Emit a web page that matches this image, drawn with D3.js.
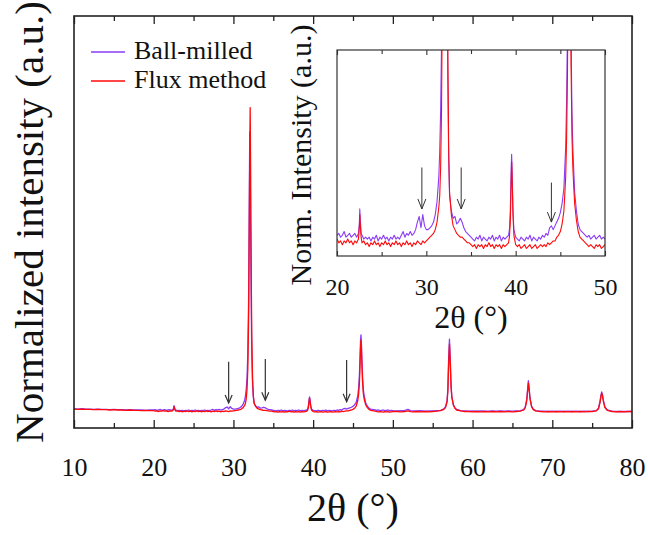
<!DOCTYPE html>
<html><head><meta charset="utf-8">
<script src="https://cdn.jsdelivr.net/npm/d3@7"></script>
<style>
body{margin:0;background:#fff;}
svg{display:block;}
text{font-family:"Liberation Serif","Times New Roman",serif;fill:#111;}
</style>
</head><body>
<svg id="c" width="648" height="535" font-family="Liberation Serif, Times New Roman, serif"></svg>
<script>
// 2θ sampling positions (degrees)
const twoTheta = [
  10,10.5,11,11.5,12,12.5,13,13.5,14,14.5,15,15.5,16,16.5,17,17.5,18,18.5,19,19.5,
  20,20.2,20.4,20.6,20.8,21,21.2,21.4,21.6,21.8,22,22.2,22.4,
  22.5,22.55,22.6,22.7,22.8,
  23,23.2,23.4,23.6,23.8,24,24.2,24.4,24.6,24.8,25,25.2,25.4,25.6,25.8,26,26.2,26.4,26.6,26.8,
  27,27.2,27.4,27.6,27.8,28,28.2,28.4,28.6,28.8,29,29.2,29.4,29.6,29.8,30,30.2,30.4,30.6,30.8,
  31,31.2,31.4,31.5,31.6,31.7,31.8,31.9,31.95,32,32.05,32.1,32.15,32.2,32.25,32.3,32.4,32.5,32.6,32.8,
  33,33.2,33.4,33.6,33.8,34,34.2,34.4,34.6,34.8,35,35.2,35.4,35.6,35.8,36,36.2,36.4,36.6,36.8,
  37,37.2,37.4,37.6,37.8,38,38.2,38.4,38.6,38.8,39,39.2,
  39.3,39.4,39.5,39.55,39.6,39.7,39.8,
  40,40.2,40.4,40.6,40.8,41,41.2,41.4,41.6,41.8,42,42.2,42.4,42.6,42.8,43,43.2,43.4,43.6,43.8,
  44,44.2,44.4,44.6,44.8,45,45.2,45.4,
  45.6,45.7,45.8,45.9,45.95,46,46.05,46.1,46.2,46.3,46.4,46.5,46.6,46.8,
  47,47.2,47.4,47.6,47.8,48,48.2,48.4,48.6,48.8,49,49.2,49.4,49.6,49.8,50,
  50.5,51,51.5,51.9,52.2,52.5,53,53.5,54,54.5,
  55,55.5,56,56.4,56.6,56.8,56.9,57,57.1,57.2,
  57.3,57.4,57.6,57.8,58,58.5,59,59.5,60,60.5,
  61,61.5,62,62.5,63,63.5,64,64.5,65,65.5,
  66,66.4,66.6,66.8,66.9,67,67.1,67.2,67.4,67.6,
  67.9,68.5,69,69.5,70,70.5,71,71.5,72,72.5,
  73,73.5,74,74.5,75,75.5,75.8,76,76.1,76.2,
  76.3,76.4,76.6,76.9,77.5,78,78.5,79,79.5,80
];
// Normalized intensity, in thousandths of the strongest (Flux method) peak
const fluxMethod = [
  12,11,12,11,11,10,11,10,10,9,10,9,9,8,9,8,8,7,8,7,
  7,5,6,4,6,5,7,5,6,4,6,5,7,
  13,20,15,8,5,
  6,4,5,3,5,4,6,4,5,3,5,4,6,4,5,3,5,4,6,4,
  5,3,5,4,6,4,5,3,5,4,6,5,4,6,5,6,7,8,9,10,
  12,16,24,30,45,75,140,300,460,650,850,1000,820,600,400,250,110,55,32,20,
  14,12,10,9,8,8,7,6,5,5,4,3,4,2,4,3,4,2,4,3,
  5,3,4,2,4,3,4,2,4,3,4,5,
  8,16,38,48,40,20,9,
  4,3,4,2,3,4,2,3,4,2,3,4,2,3,4,3,4,3,5,4,
  5,6,6,8,9,11,15,22,
  40,60,95,170,215,238,220,175,100,62,45,35,26,17,
  11,8,7,6,5,4,3,4,3,2,4,3,4,2,3,4,
  4,3,4,6,4,3,4,3,4,3,
  4,5,7,11,17,35,70,160,225,165,
  85,50,24,14,9,6,4,4,3,4,
  3,4,3,4,3,4,3,4,3,4,
  5,9,16,40,70,97,75,46,20,11,
  6,4,3,4,3,4,3,4,3,4,
  3,4,3,4,4,6,13,35,52,64,
  55,38,17,8,4,3,4,3,4,4
];
const ballMilled = [
  13,12,13,12,12,11,12,11,11,10,11,10,10,9,10,9,9,9,8,9,
  9,10,8,9,11,8,9,10,8,9,10,8,10,
  15,23,18,10,9,
  7,8,7,8,6,8,7,9,6,8,7,9,7,8,6,8,7,9,7,8,
  7,9,11,8,10,9,11,9,10,12,16,19,13,20,14,12,12,13,14,16,
  20,27,40,54,75,110,190,360,560,750,920,820,640,460,320,200,95,50,30,22,
  18,19,15,16,18,16,13,11,10,9,8,7,6,8,7,9,6,8,7,6,
  8,7,9,6,8,7,9,6,8,7,8,9,
  12,22,45,52,44,22,12,
  8,7,6,8,7,6,8,7,9,6,8,7,6,8,7,9,8,10,9,13,
  14,12,14,16,18,21,26,34,
  56,80,120,200,240,255,230,185,115,75,55,44,32,22,
  15,12,11,10,9,8,9,7,8,9,7,8,9,7,8,7,
  6,7,8,11,7,6,6,7,5,6,
  6,7,8,13,19,40,80,180,241,175,
  90,52,26,16,11,7,6,5,6,5,
  6,5,5,6,5,6,5,6,5,6,
  7,10,18,45,76,105,80,50,22,12,
  7,5,5,4,5,4,5,4,5,4,
  5,4,5,4,5,7,15,40,57,68,
  58,42,19,9,5,4,4,4,4,4
];
const seriesNames = ["Ball-milled","Flux method"];
const seriesColors = ["#8a3cf5","#ff0a0a"];
const mainTicks = [10,20,30,40,50,60,70,80];
const mainMinor = [15,25,35,45,55,65,75];
const insetTicks = [20,30,40,50];
const insetMinor = [25,35,45];
// arrows: 2θ position, intensity at tail and at tip (thousandths)
const arrowsMain = [[29.4,167,32],[34.0,176,41],[44.2,173,36]];
const arrowsInset = [[29.5,45,23],[33.9,45,23],[44.0,37,16]];

const FONT = '"Liberation Serif","Times New Roman",serif';
const svg = d3.select("#c");
svg.append("rect").attr("width",648).attr("height",535).attr("fill","#fff");

const F = {l:74,r:632,t:16,b:428};
const x = d3.scaleLinear().domain([10,80]).range([F.l,F.r]);
const y = d3.scaleLinear().domain([-50,1300]).range([F.b,F.t]);

const I = {l:337,r:605,t:50,b:256};
const xi = d3.scaleLinear().domain([20,50]).range([I.l,I.r]);
const yi = d3.scaleLinear().domain([-2,107.4]).range([I.b,I.t]);

const data = [ballMilled, fluxMethod];

// main lines
const mainG = svg.append("g");
data.forEach((vals,k)=>{
  const line = d3.line().x((d,i)=>x(twoTheta[i])).y(d=>y(d));
  mainG.append("path").datum(vals).attr("d",line)
    .attr("fill","none").attr("stroke",seriesColors[k]).attr("stroke-width",1.3)
    .attr("stroke-linejoin","round");
});

function arrow(g, xs, ys, a, hw, hh, sw){
  const X = xs(a[0]), y0 = ys(a[1]), y1 = ys(a[2]);
  g.append("line").attr("x1",X).attr("x2",X).attr("y1",y0).attr("y2",y1)
    .attr("stroke","#333").attr("stroke-width",sw);
  g.append("path").attr("d",`M${X-hw},${y1-hh}L${X},${y1}L${X+hw},${y1-hh}`)
    .attr("fill","none").attr("stroke","#333").attr("stroke-width",sw);
}
arrowsMain.forEach(a=>arrow(svg,x,y,a,3.5,8,1.2));

// main axes (ticks inward, top and bottom)
function tickAxis(axisFn, scale, vals, size, yPos, label, fs, pad){
  const ax = axisFn(scale).tickValues(vals).tickSize(-size).tickPadding(pad);
  if(!label) ax.tickFormat("");
  else ax.tickFormat(d3.format("d"));
  const g = svg.append("g").attr("transform",`translate(0,${yPos})`).call(ax)
    .attr("font-family",FONT);
  g.select(".domain").remove();
  g.selectAll(".tick line").attr("stroke","#222").attr("stroke-width",1.3);
  g.selectAll("text").attr("font-size",fs).attr("fill","#111").style("font-family",FONT);
  return g;
}
tickAxis(d3.axisBottom, x, mainTicks, 8, F.b, true, 26, 30);
tickAxis(d3.axisBottom, x, mainMinor, 5, F.b, false, 26, 0);
tickAxis(d3.axisTop, x, mainTicks, 8, F.t, false, 26, 0);
tickAxis(d3.axisTop, x, mainMinor, 5, F.t, false, 26, 0);

svg.append("rect").attr("x",F.l).attr("y",F.t).attr("width",F.r-F.l).attr("height",F.b-F.t)
  .attr("fill","none").attr("stroke","#222").attr("stroke-width",1.6);

// titles
svg.append("text").attr("x",(F.l+F.r)/2).attr("y",521).attr("text-anchor","middle")
  .attr("font-size",40).text("2θ (°)");
svg.append("text").attr("transform",`translate(43,${(F.t+F.b)/2}) rotate(-90)`)
  .attr("text-anchor","middle").attr("font-size",41).text("Normalized intensity (a.u.)");

// legend
const leg = svg.append("g");
seriesNames.forEach((n,k)=>{
  const yy = 52 + k*29;
  leg.append("line").attr("x1",91).attr("x2",125).attr("y1",yy).attr("y2",yy)
    .attr("stroke",seriesColors[k]).attr("stroke-width",1.3);
  leg.append("text").attr("x",134).attr("y",yy+7).attr("font-size",26).text(n);
});

// inset
const ig = svg.append("g");
ig.append("rect").attr("x",I.l).attr("y",I.t).attr("width",I.r-I.l).attr("height",I.b-I.t).attr("fill","#fff");
svg.append("clipPath").attr("id","ic").append("rect")
  .attr("x",I.l).attr("y",I.t).attr("width",I.r-I.l).attr("height",I.b-I.t);
const il = ig.append("g").attr("clip-path","url(#ic)");
data.forEach((vals,k)=>{
  const line = d3.line().defined((d,i)=>twoTheta[i]>=19 && twoTheta[i]<=51)
    .x((d,i)=>xi(twoTheta[i])).y(d=>yi(d));
  il.append("path").datum(vals).attr("d",line)
    .attr("fill","none").attr("stroke",seriesColors[k]).attr("stroke-width",1.1)
    .attr("stroke-linejoin","round");
});
arrowsInset.forEach(a=>arrow(ig,xi,yi,a,4,10,1));

function insetAxis(axisFn, vals, size, yPos, label){
  const ax = axisFn(xi).tickValues(vals).tickSize(-size).tickPadding(22);
  if(!label) ax.tickFormat(""); else ax.tickFormat(d3.format("d"));
  const g = ig.append("g").attr("transform",`translate(0,${yPos})`).call(ax)
    .attr("font-family",FONT);
  g.select(".domain").remove();
  g.selectAll(".tick line").attr("stroke","#333").attr("stroke-width",1.1);
  g.selectAll("text").attr("font-size",24).attr("fill","#111").style("font-family",FONT);
}
insetAxis(d3.axisBottom, insetTicks, 5, I.b, true);
insetAxis(d3.axisBottom, insetMinor, 4, I.b, false);
insetAxis(d3.axisTop, insetTicks, 5, I.t, false);
insetAxis(d3.axisTop, insetMinor, 4, I.t, false);
ig.append("rect").attr("x",I.l).attr("y",I.t).attr("width",I.r-I.l).attr("height",I.b-I.t)
  .attr("fill","none").attr("stroke","#333").attr("stroke-width",1.2);

ig.append("text").attr("x",(I.l+I.r)/2).attr("y",328).attr("text-anchor","middle")
  .attr("font-size",32).text("2θ (°)");
ig.append("text").attr("transform",`translate(311,155) rotate(-90)`)
  .attr("text-anchor","middle").attr("font-size",30).text("Norm. Intensity (a.u.)");
</script>
</body></html>
